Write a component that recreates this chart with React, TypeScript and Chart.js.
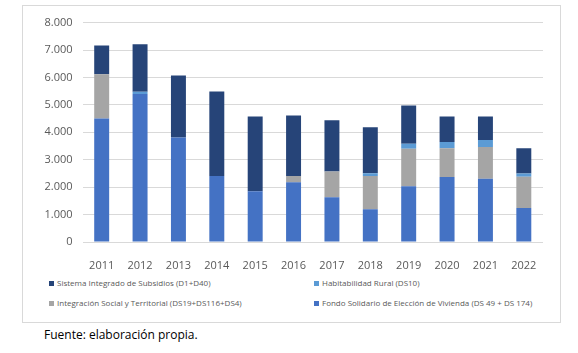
import React, { useEffect, useRef } from "react";
import { Chart, registerables } from "chart.js";

Chart.register(...registerables);

const years = ["2011", "2012", "2013", "2014", "2015", "2016", "2017", "2018", "2019", "2020", "2021", "2022"];
const fondo = [4505, 5400, 3810, 2405, 1850, 2175, 1630, 1190, 2030, 2370, 2305, 1240];
const integracion = [1615, 0, 0, 0, 0, 230, 945, 1215, 1370, 1045, 1155, 1140];
const habitabilidad = [0, 80, 0, 0, 0, 0, 0, 100, 185, 230, 255, 120];
const sistema = [1045, 1730, 2260, 3085, 2730, 2210, 1860, 1675, 1395, 935, 865, 920];
const yTicks = [0, 1000, 2000, 3000, 4000, 5000, 6000, 7000, 8000];

const labels = {
  sistema: "Sistema Integrado de Subsidios (D1+D40)",
  habitabilidad: "Habitabilidad Rural (DS10)",
  integracion: "Integración Social y Territorial (DS19+DS116+DS4)",
  fondo: "Fondo Solidario de Elección de Vivienda (DS 49 + DS 174)",
};
const colors = {
  fondo: "#4472C4",
  integracion: "#A5A5A5",
  habitabilidad: "#5B9BD5",
  sistema: "#264478",
};

const FONT = "'Open Sans', 'Liberation Sans', sans-serif";

function fmt(v: number) {
  return v.toLocaleString("de-DE");
}

export default function App() {
  const ref = useRef<HTMLCanvasElement>(null);
  useEffect(() => {
    if (!ref.current) return;
    const mk = (label: string, data: number[], color: string) => ({
      label,
      data,
      backgroundColor: color,
      borderWidth: 0,
      barPercentage: 0.39,
      categoryPercentage: 1,
    });
    const chart = new Chart(ref.current, {
      type: "bar",
      data: {
        labels: years,
        datasets: [
          mk(labels.fondo, fondo, colors.fondo),
          mk(labels.integracion, integracion, colors.integracion),
          mk(labels.habitabilidad, habitabilidad, colors.habitabilidad),
          mk(labels.sistema, sistema, colors.sistema),
        ],
      },
      options: {
        animation: false,
        responsive: false,
        maintainAspectRatio: false,
        layout: { padding: { left: 0, right: 17, top: 10, bottom: 0 } },
        plugins: { legend: { display: false }, tooltip: { enabled: false } },
        scales: {
          x: {
            stacked: true,
            grid: { display: false },
            border: { display: false },
            ticks: { color: "#595959", font: { family: FONT, size: 11 }, padding: 9, maxRotation: 0 },
            afterFit: (s: any) => { s.height = 29; },
          },
          y: {
            stacked: true,
            min: 0,
            max: 8000,
            afterBuildTicks: (s: any) => { s.ticks = yTicks.map((v) => ({ value: v })); },
            grid: { color: "#D9D9D9", drawTicks: false },
            border: { display: false },
            ticks: {
              color: "#595959",
              font: { family: FONT, size: 11 },
              padding: 10,
              callback: (v: any) => fmt(Number(v)),
            },
            afterFit: (s: any) => { s.width = 59.5; },
          },
        },
      },
    });
    return () => chart.destroy();
  }, []);

  const item = (color: string, text: string, left: number, top: number) => (
    <div
      style={{
        position: "absolute",
        left,
        top,
        display: "flex",
        alignItems: "center",
        fontFamily: FONT,
        fontSize: 8,
        color: "#595959",
        whiteSpace: "nowrap",
        lineHeight: "10px",
      }}
    >
      <span style={{ width: 5, height: 5, background: color, display: "inline-block", marginRight: 3 }} />
      {text}
    </div>
  );

  return (
    <div style={{ position: "fixed", left: 0, top: 0, width: 578, height: 353, background: "#fff" }}>
      <div
        style={{
          position: "absolute",
          left: 22,
          top: 5,
          width: 537,
          height: 316,
          border: "1px solid #D9D9D9",
        }}
      >
        <canvas ref={ref} width={537} height={265} style={{ position: "absolute", left: 0, top: 0, width: 537, height: 265 }} />
      </div>
      {item(colors.sistema, labels.sistema, 49, 278)}
      {item(colors.integracion, labels.integracion, 49, 298)}
      {item(colors.habitabilidad, labels.habitabilidad, 314, 278)}
      {item(colors.fondo, labels.fondo, 314, 298)}
      <div
        style={{
          position: "absolute",
          left: 44,
          top: 326,
          fontFamily: FONT,
          fontSize: 12,
          lineHeight: "17px",
          color: "#000",
          whiteSpace: "nowrap",
        }}
      >
        Fuente: elaboración propia.
      </div>
    </div>
  );
}
